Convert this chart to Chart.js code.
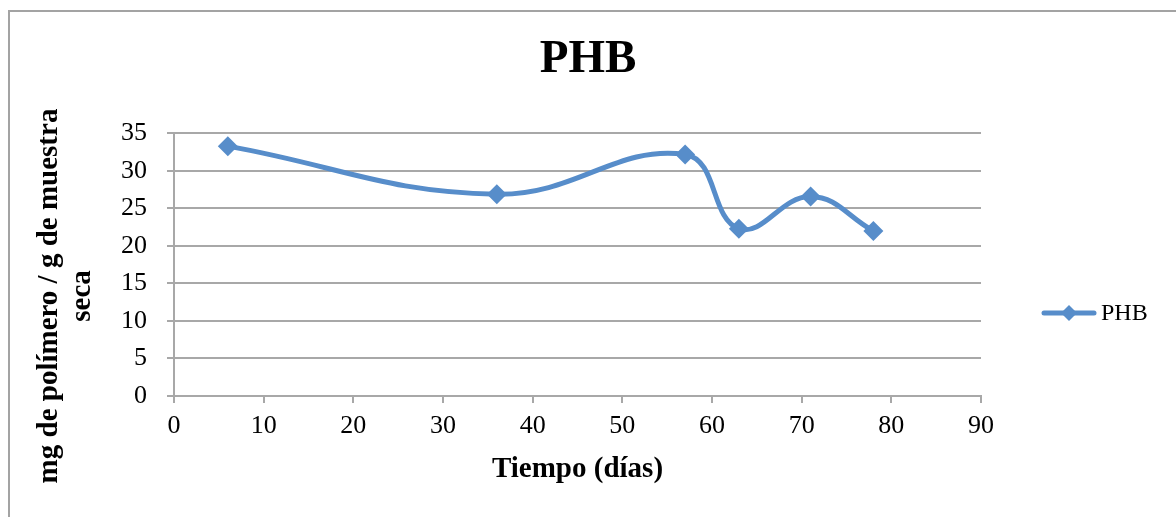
<!DOCTYPE html>
<html>
<head>
<meta charset="utf-8">
<script src="https://cdn.jsdelivr.net/npm/chart.js@4"></script>
<style>
  html, body { margin: 0; padding: 0; background: #fff; overflow: hidden; }
  #wrap { position: relative; width: 1176px; height: 517px; }
  #frame { position: absolute; left: 8px; top: 10px; width: 1300px; height: 600px; border: 2px solid #a3a3a3; }
  canvas { position: absolute; left: 0; top: 0; }
</style>
</head>
<body>
<div id="wrap">
  <div id="frame"></div>
  <canvas id="phbChart" width="1176" height="517"></canvas>
</div>
<script>
const dias = [6, 36, 57, 63, 71, 78];
const phb = [33.3, 26.9, 32.2, 22.3, 26.6, 22.0];
const yTitle = ['mg de polímero / g de muestra', 'seca'];
const xTitle = 'Tiempo (días)';

const AZUL = '#578dca';
const GRIS = '#a8a8a8';
const SERIF = "'Liberation Serif', 'Times New Roman', serif";

// titulo del eje y (dos lineas) y leyenda a la derecha
const extras = {
  id: 'extras',
  afterDraw(chart) {
    const ctx = chart.ctx;
    ctx.save();
    ctx.fillStyle = '#000';
    ctx.font = 'bold 29px ' + SERIF;
    ctx.textAlign = 'center';
    ctx.textBaseline = 'middle';
    ctx.translate(0, 296);
    ctx.rotate(-Math.PI / 2);
    ctx.fillText(yTitle[0], 0, 50);
    ctx.fillText(yTitle[1], 0, 83);
    ctx.restore();

    const ds = chart.data.datasets[0];
    const ly = 313;
    ctx.save();
    ctx.strokeStyle = ds.borderColor;
    ctx.lineWidth = ds.borderWidth;
    ctx.lineCap = 'round';
    ctx.beginPath();
    ctx.moveTo(1044, ly);
    ctx.lineTo(1094, ly);
    ctx.stroke();
    ctx.fillStyle = ds.pointBackgroundColor;
    ctx.beginPath();
    ctx.moveTo(1069, ly - 8);
    ctx.lineTo(1077, ly);
    ctx.lineTo(1069, ly + 8);
    ctx.lineTo(1061, ly);
    ctx.closePath();
    ctx.fill();
    ctx.fillStyle = '#000';
    ctx.font = '24px ' + SERIF;
    ctx.textAlign = 'left';
    ctx.textBaseline = 'middle';
    ctx.fillText(ds.label, 1101, ly + 1);
    ctx.restore();
  }
};

new Chart(document.getElementById('phbChart'), {
  type: 'line',
  data: {
    datasets: [{
      label: 'PHB',
      data: dias.map((d, i) => ({ x: d, y: phb[i] })),
      borderColor: AZUL,
      backgroundColor: AZUL,
      pointBackgroundColor: AZUL,
      pointBorderColor: AZUL,
      borderWidth: 5,
      pointStyle: 'rectRot',
      pointRadius: 10,
      pointBorderWidth: 0,
      tension: 0.42,
      fill: false
    }]
  },
  options: {
    responsive: false,
    animation: false,
    plugins: {
      legend: { display: false },
      tooltip: { enabled: false },
      title: {
        display: true,
        text: 'PHB',
        color: '#000',
        font: { family: SERIF, size: 47, weight: 'bold' },
        padding: { top: 32, bottom: 45 }
      }
    },
    scales: {
      x: {
        type: 'linear',
        min: 0, max: 90,
        ticks: { stepSize: 10, color: '#000', font: { family: SERIF, size: 26 }, padding: 8, maxRotation: 0 },
        grid: { drawOnChartArea: false, drawTicks: true, tickLength: 7, color: GRIS, lineWidth: 2 },
        border: { display: true, color: GRIS, width: 2 },
        title: {
          display: true, text: xTitle, color: '#000',
          font: { family: SERIF, size: 29, weight: 'bold' },
          padding: { top: 4, bottom: 30 }
        },
        afterFit(scale) { scale.height = 121; }
      },
      y: {
        min: 0, max: 35,
        ticks: { stepSize: 5, color: '#000', font: { family: SERIF, size: 26 }, padding: 20 },
        grid: { color: GRIS, lineWidth: 2, tickLength: 7 },
        border: { display: true, color: GRIS, width: 2 },
        afterFit(scale) { scale.width = 174; }
      },
      // hueco a la derecha para la leyenda
      margen: {
        position: 'right',
        ticks: { display: false },
        grid: { display: false },
        border: { display: false },
        afterFit(scale) { scale.width = 195; }
      }
    }
  },
  plugins: [extras]
});
</script>
</body>
</html>
